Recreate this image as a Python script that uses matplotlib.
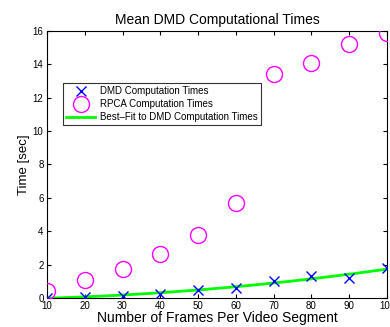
import numpy as np
import matplotlib
matplotlib.use("Agg")
import matplotlib.pyplot as plt

plt.rcParams['font.family'] = ['Liberation Sans', 'DejaVu Sans']

# data
frames = [10, 20, 30, 40, 50, 60, 70, 80, 90, 100]
dmd_times = [0.02, 0.08, 0.14, 0.26, 0.46, 0.62, 1.02, 1.34, 1.18, 1.78]
rpca_times = [0.44, 1.07, 1.72, 2.63, 3.79, 5.71, 13.4, 14.05, 15.2, 15.85]

# quadratic best fit to the DMD times
coef = np.polyfit(frames, dmd_times, 2)
xfit = np.linspace(frames[0], frames[-1], 200)
yfit = np.polyval(coef, xfit)

fig = plt.figure(figsize=(3.9, 3.27), dpi=100)
ax = fig.add_axes([47/390, 1-298/327, 340/390, (298-30.7)/327])

ax.plot(frames, dmd_times, 'x', color='blue', markersize=7.5, markeredgewidth=1,
        label='DMD Computation Times', zorder=3)
ax.plot(frames, rpca_times, 'o', markerfacecolor='none', markeredgecolor='magenta',
        markersize=11.5, markeredgewidth=1, label='RPCA Computation Times', zorder=3)
ax.plot(xfit, yfit, color='lime', linewidth=2, label='Best\u2013Fit to DMD Computation Times',
        zorder=2)

ax.set_xlim(10, 100)
ax.set_ylim(0, 16)
ax.set_xticks(frames)
ax.set_yticks(np.arange(0, 17, 2))
ax.tick_params(direction='in', top=True, right=True, labelsize=7, length=3, pad=2.5)
for s in ax.spines.values():
    s.set_linewidth(0.8)

ax.set_title('Mean DMD Computational Times', fontsize=10, pad=5)
ax.set_xlabel('Number of Frames Per Video Segment', fontsize=10, labelpad=0)
ax.set_ylabel('Time [sec]', fontsize=9.5, labelpad=2)

leg = ax.legend(loc='upper left', bbox_to_anchor=(0.046, 0.805), fontsize=7,
                frameon=True, fancybox=False, edgecolor='black', borderpad=0.35,
                labelspacing=0.3, handlelength=3.0, handletextpad=0.45,
                borderaxespad=0)
leg.get_frame().set_linewidth(0.8)

fig.savefig('out.png', dpi=100)
